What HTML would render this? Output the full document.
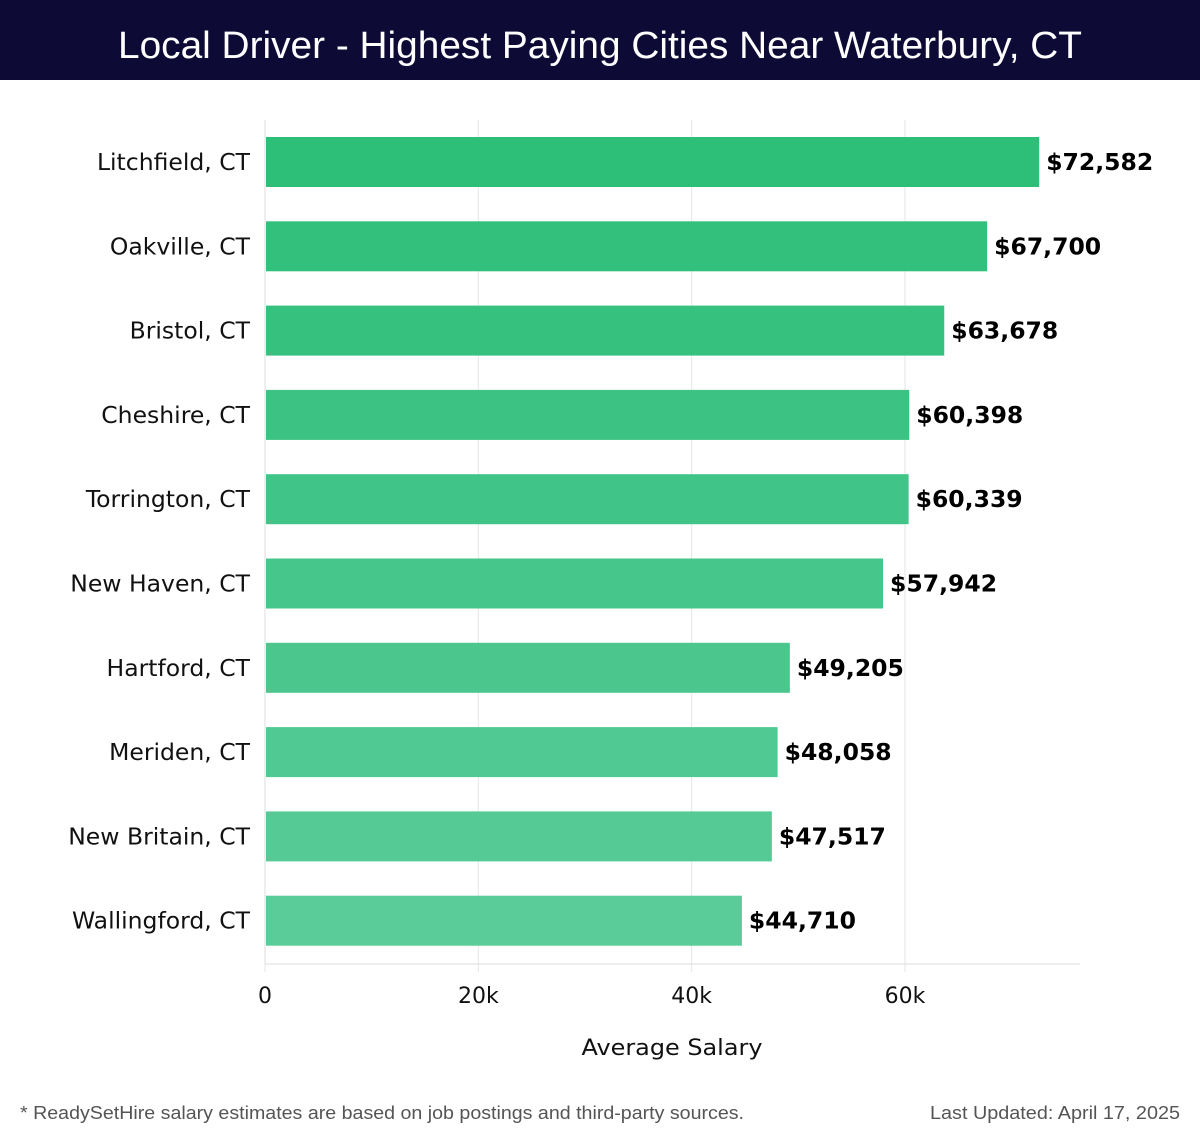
<!DOCTYPE html>
<html><head><meta charset="utf-8"><style>
html,body{margin:0;padding:0;background:#fff;}
svg{display:block;font-family:"DejaVu Sans","Liberation Sans",sans-serif;}
</style></head><body>
<svg id="chart" width="1200" height="1140" viewBox="0 0 1200 1140">
<rect x="0" y="0" width="1200" height="80" fill="#0d0b35"/>
<text x="600" y="58" text-anchor="middle" fill="#fff" font-size="38" font-family="Liberation Sans, sans-serif" textLength="964" lengthAdjust="spacingAndGlyphs">Local Driver - Highest Paying Cities Near Waterbury, CT</text>
<g id="grid"></g><g id="bars"></g><g id="labels"></g>
<line x1="265" y1="964" x2="1080" y2="964" stroke="#ddd"/>
<line x1="265" y1="120" x2="265" y2="964" stroke="#ddd"/>
<text x="672" y="1055" text-anchor="middle" font-size="22" fill="#111" textLength="181" lengthAdjust="spacingAndGlyphs">Average Salary</text>
<text x="20" y="1119" font-size="18" fill="#555" font-family="Liberation Sans, sans-serif" textLength="724" lengthAdjust="spacingAndGlyphs">* ReadySetHire salary estimates are based on job postings and third-party sources.</text>
<text x="1180" y="1119" text-anchor="end" font-size="18" fill="#555" font-family="Liberation Sans, sans-serif" textLength="250" lengthAdjust="spacingAndGlyphs">Last Updated: April 17, 2025</text>
</svg>
<script>
const cities=["Litchfield, CT","Oakville, CT","Bristol, CT","Cheshire, CT","Torrington, CT","New Haven, CT","Hartford, CT","Meriden, CT","New Britain, CT","Wallingford, CT"];
const salaries=[72582,67700,63678,60398,60339,57942,49205,48058,47517,44710];
const tickValues=[0,20000,40000,60000];
const tickLabels=["0","20k","40k","60k"];
const NS="http://www.w3.org/2000/svg";
const x=v=>265+v*(640/60000);
const y=i=>162+i*84.3;
function mk(t,a){const e=document.createElementNS(NS,t);for(const k in a)e.setAttribute(k,a[k]);return e;}
const grid=document.getElementById('grid'),bars=document.getElementById('bars'),labels=document.getElementById('labels');
tickValues.forEach((v,i)=>{
 const g=mk('line',{x1:x(v),x2:x(v),y1:120,y2:972,stroke:'#e6e6e6'});
 
 
 grid.appendChild(g);
 const t=mk('text',{x:x(v),y:1003,'text-anchor':'middle','font-size':22,fill:'#111'});
 t.textContent=tickLabels[i];
 
 
 labels.appendChild(t);
});
function col(i){const a=[45,190,120],b=[90,204,153],f=i/9;return `rgb(${a.map((c,k)=>Math.round(c+(b[k]-c)*f)).join(',')})`;}
cities.forEach((c,i)=>{
 const r=mk('rect',{x:266,y:y(i)-25,width:x(salaries[i])-266,height:50,fill:col(i)});
 
 
 bars.appendChild(r);
 const l=mk('text',{x:250,y:y(i)+8,'text-anchor':'end','font-size':23.5,fill:'#111'});
 l.textContent=c;
 
 
 labels.appendChild(l);
 const v=mk('text',{x:x(salaries[i])+7,y:y(i)+8,'font-size':23.5,'font-weight':'bold',fill:'#000'});
 v.textContent='$'+salaries[i].toLocaleString('en-US');
 
 
 labels.appendChild(v);
});
</script>
</body></html>
